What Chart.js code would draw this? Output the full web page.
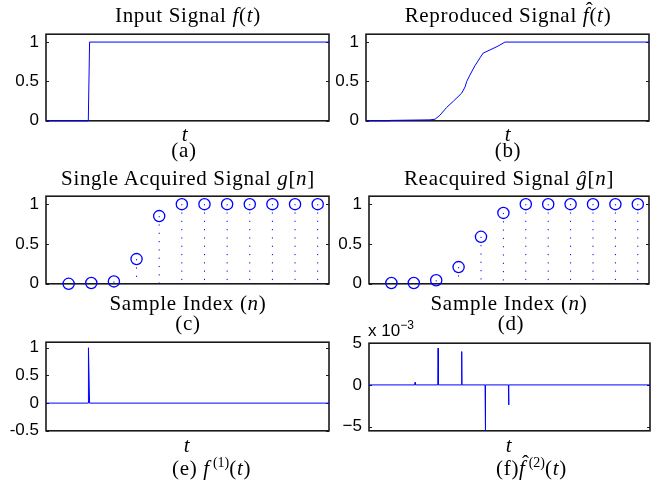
<!DOCTYPE html>
<html>
<head>
<meta charset="utf-8">
<script src="https://cdn.jsdelivr.net/npm/chart.js@4.4.0/dist/chart.umd.min.js"></script>
<style>
body { margin: 0; background: #fff; width: 662px; height: 483px; position: relative; overflow: hidden; }
canvas { position: absolute; }
.t { position: absolute; font-family: "Liberation Serif", serif; font-size: 21px; line-height: 21px; letter-spacing: 0.7px; white-space: nowrap; color: #000; }
.c { transform: translateX(-50%); }
.s { position: absolute; font-family: "Liberation Sans", sans-serif; font-size: 17px; line-height: 17px; white-space: nowrap; color: #000; }
.s sup { font-size: 12px; vertical-align: 7px; }
.t sup { font-size: 14px; vertical-align: 8px; letter-spacing: 0; margin-left: 3px; }
.hat { position: relative; display: inline-block; }
.hat b { position: absolute; left: 3px; top: -5px; font-weight: normal; font-style: normal; }
</style>
</head>
<body>
<canvas id="pa"></canvas>
<canvas id="pb"></canvas>
<canvas id="pc"></canvas>
<canvas id="pd"></canvas>
<canvas id="pe"></canvas>
<canvas id="pf"></canvas>

<div class="t c" style="left:188px;top:5px">Input Signal <i>f</i>(<i>t</i>)</div>
<div class="t c" style="left:508px;top:5px">Reproduced Signal <span class="hat"><i>f</i><b>ˆ</b></span>(<i>t</i>)</div>
<div class="t c" style="left:185px;top:124px"><i>t</i></div>
<div class="t c" style="left:184px;top:140px">(a)</div>
<div class="t c" style="left:508px;top:124px"><i>t</i></div>
<div class="t c" style="left:508px;top:140px">(b)</div>

<div class="t c" style="left:188px;top:168px">Single Acquired Signal <i>g</i>[<i>n</i>]</div>
<div class="t c" style="left:509px;top:168px">Reacquired Signal <i>ĝ</i>[<i>n</i>]</div>
<div class="t c" style="left:188px;top:293px">Sample Index (<i>n</i>)</div>
<div class="t c" style="left:188px;top:313px">(c)</div>
<div class="t c" style="left:509px;top:293px">Sample Index (<i>n</i>)</div>
<div class="t c" style="left:511px;top:313px">(d)</div>

<div class="s" style="left:368px;top:317px">x 10<sup>−3</sup></div>
<div class="t c" style="left:187px;top:435px"><i>t</i></div>
<div class="t" style="left:172px;top:452px">(e) <i>f</i><sup>(1)</sup>(<i>t</i>)</div>
<div class="t c" style="left:509px;top:435px"><i>t</i></div>
<div class="t" style="left:496px;top:452px">(f)<span class="hat"><i>f</i><b>ˆ</b></span><sup>(2)</sup>(<i>t</i>)</div>

<script>
// (a) input step f(t)
var tStep = [0, 14.95, 15.4, 100];
var fStep = [0, 0, 1, 1];

// (b) reproduced signal
var tRep = [0, 8.5, 8.6, 22.6, 24.4, 26.1, 28.5, 30.9, 33.8, 35.0, 35.6, 36.7, 38.5, 40.3, 41.4, 43.8, 46.7, 49.1, 100];
var fRep = [0, 0, 0.005, 0.012, 0.02, 0.07, 0.17, 0.25, 0.35, 0.43, 0.50, 0.58, 0.70, 0.80, 0.86, 0.90, 0.95, 1.0, 1.0];

// (c), (d) sampled signals
var nIdx = [1, 2, 3, 4, 5, 6, 7, 8, 9, 10, 11, 12];
var gAcq = [0, 0.01, 0.03, 0.31, 0.85, 1, 1, 1, 1, 1, 1, 1];
var gRe = [0.01, 0.01, 0.045, 0.21, 0.59, 0.89, 1, 1, 1, 1, 1, 1];

// (e) first derivative
var tD1 = [0, 14.95, 15.0, 15.4, 100];
var d1 = [0, 0, 1, 0, 0];

// (f) second derivative of the reproduced signal
var tD2 = [0, 16.3, 16.4, 16.5, 24.5, 24.6, 24.7, 32.9, 33.0, 33.1, 41.3, 41.4, 41.5, 49.6, 49.7, 49.8, 100];
var d2 = [0, 0, 0.0003, 0, 0, 0.0044, 0, 0, 0.004, 0, 0, -0.0055, 0, 0, -0.0024, 0, 0];

var ticksUnit = [0, 0.5, 1];
var ticksE = [-0.5, 0, 0.5, 1];
var ticksF = [-0.005, 0, 0.005];

var blue = '#0000ff';

var boxPlugin = {
    id: 'box',
    beforeDatasetsDraw: function(chart){
        var a = chart.chartArea, ctx = chart.ctx, y = chart.scales.y;
        ctx.save();
        ctx.strokeStyle = '#1a1a1a';
        ctx.lineWidth = 1.6;
        ctx.strokeRect(a.left, a.top, a.right - a.left, a.bottom - a.top);
        ctx.lineWidth = 1;
        y.ticks.forEach(function(t){
            var py = Math.round(y.getPixelForValue(t.value)) + 0.5;
            ctx.beginPath();
            ctx.moveTo(a.left, py); ctx.lineTo(a.left + 3, py);
            ctx.moveTo(a.right, py); ctx.lineTo(a.right - 3, py);
            ctx.stroke();
        });
        ctx.restore();
    }
};

function points(xs, ys){
    return xs.map(function(x, i){ return {x: x, y: ys[i]}; });
}

function lineSet(xs, ys){
    return { data: points(xs, ys), borderColor: blue, borderWidth: 1, pointRadius: 0, tension: 0, clip: false };
}

function stemSets(xs, ys){
    var sets = xs.map(function(x, i){
        return { data: [{x: x, y: ys[i]}, {x: x, y: 0}], borderColor: blue, borderWidth: 1,
                 borderDash: [1.2, 7.1], pointRadius: 0, clip: false };
    });
    sets.push({ data: points(xs, ys), showLine: false, borderColor: blue, backgroundColor: 'rgba(0,0,0,0)',
                borderWidth: 1.3, pointRadius: 5.6, pointStyle: 'circle', clip: false });
    return sets;
}

function panel(id, box, colLeft, xMax, yMin, yMax, yTicks, datasets, fmt){
    var cv = document.getElementById(id);
    var padTB = 14, padR = 8;
    cv.width = box.r - colLeft + padR;
    cv.height = box.b - box.t + 2 * padTB;
    cv.style.left = colLeft + 'px';
    cv.style.top = (box.t - padTB) + 'px';
    var yw = box.l - colLeft;
    return new Chart(cv, {
        type: 'line',
        data: { datasets: datasets },
        options: {
            responsive: false,
            animation: false,
            devicePixelRatio: 1,
            events: [],
            layout: { padding: { top: padTB, bottom: padTB, left: 0, right: padR } },
            plugins: { legend: { display: false }, tooltip: { enabled: false } },
            scales: {
                x: { type: 'linear', display: false, min: 0, max: xMax },
                y: {
                    type: 'linear', min: yMin, max: yMax,
                    grid: { display: false, drawTicks: false, tickLength: 0 }, border: { display: false },
                    afterBuildTicks: function(s){ s.ticks = yTicks.map(function(v){ return {value: v}; }); },
                    afterFit: function(s){ s.width = yw; },
                    ticks: { padding: 7, color: '#000', font: { family: '"Liberation Sans", Arial, sans-serif', size: 17 },
                             callback: fmt || function(v){ return String(v); } }
                }
            }
        },
        plugins: [boxPlugin]
    });
}

panel('pa', {l: 46, r: 329, t: 31, b: 124}, 0, 100, 0, 1.1, ticksUnit, [lineSet(tStep, fStep)]);
panel('pb', {l: 366, r: 649, t: 31, b: 124}, 300, 100, 0, 1.1, ticksUnit, [lineSet(tRep, fRep)]);
panel('pc', {l: 46, r: 329, t: 193, b: 287}, 0, 12.5, 0, 1.1, ticksUnit, stemSets(nIdx, gAcq));
panel('pd', {l: 369, r: 649, t: 193, b: 287}, 300, 12.5, 0, 1.1, ticksUnit, stemSets(nIdx, gRe));
panel('pe', {l: 46, r: 329, t: 339, b: 434}, 0, 100, -0.5, 1.1, ticksE, [lineSet(tD1, d1)]);
panel('pf', {l: 369, r: 650, t: 340, b: 434}, 300, 100, -0.0055, 0.005, ticksF, [lineSet(tD2, d2)],
      function(v){ return v === 0 ? '0' : (v < 0 ? '−' : '') + Math.round(Math.abs(v) * 1000); });
</script>
</body>
</html>
